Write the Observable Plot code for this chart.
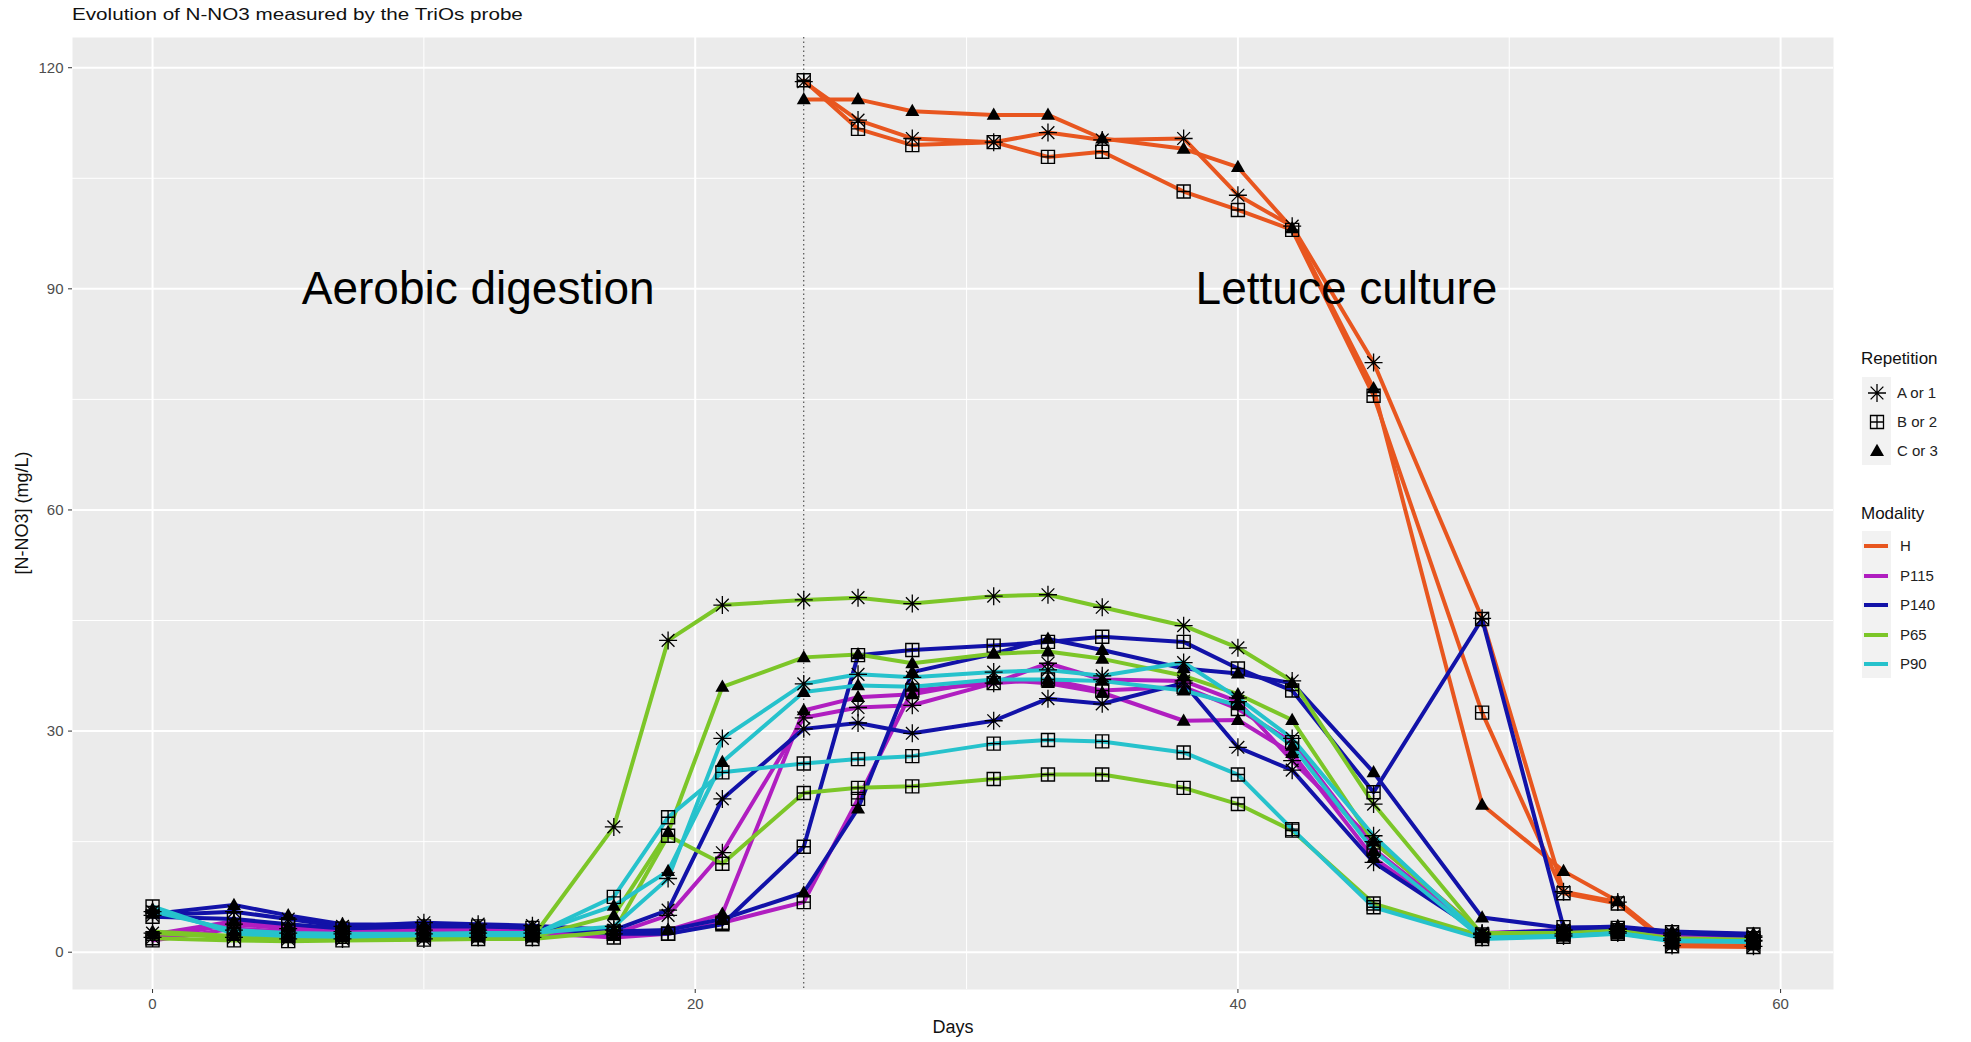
<!DOCTYPE html>
<html>
<head>
<meta charset="utf-8">
<script src="https://cdn.jsdelivr.net/npm/d3@7"></script>
<script src="https://cdn.jsdelivr.net/npm/@observablehq/plot@0.6"></script>
<style>
  html, body { margin: 0; padding: 0; background: #fff; }
  body { font-family: "Liberation Sans", Arial, sans-serif; }
  #wrap { position: relative; width: 1971px; height: 1042px; overflow: hidden; }
  #title { position: absolute; left: 72px; top: 6px; font-size: 16px; color: #111; white-space: nowrap; transform: scaleX(1.29); transform-origin: left center; }
  #chart { position: absolute; left: 0; top: 37px; }
  .axtitle { position: absolute; font-size: 18px; color: #111; white-space: nowrap; }
  #xlab { left: 953px; top: 1017px; transform: translateX(-50%); }
  #ylab { left: 22px; top: 513px; transform: translate(-50%, -50%) rotate(-90deg); }
  .lg { position: absolute; font-size: 15px; color: #222; white-space: nowrap; }
  .lgt { position: absolute; font-size: 17px; color: #111; white-space: nowrap; }
</style>
</head>
<body>
<div id="wrap">
  <div id="title">Evolution of N-NO3 measured by the TriOs probe</div>
  <div id="chart"></div>
  <div id="xlab" class="axtitle">Days</div>
  <div id="ylab" class="axtitle">[N-NO3] (mg/L)</div>
  <div id="legend"></div>
</div>
<script>
// ---------- data ----------
const days = [0,3,5,7,10,12,14,17,19,21,24,26,28,31,33,35,38,40,42,45,49,52,54,56,59];
const daysH = [24,26,28,31,33,35,38,40,42,45,49,52,54,56,59];

const H_A = [118.1,112.9,110.4,109.9,111.2,110.2,110.4,102.7,98.5,80.0,45.3,8.2,6.8,0.9,0.8];
const H_B = [118.3,111.7,109.5,109.9,107.9,108.6,103.2,100.7,98.0,75.5,32.5,8.0,6.6,0.8,0.7];
const H_C = [115.7,115.7,114.1,113.6,113.6,110.4,109.0,106.5,98.2,76.5,20.0,11.0,6.9,1.0,0.9];

const P65_A = [2.6,2.0,1.8,1.8,1.8,2.0,2.0,17.0,42.3,47.1,47.8,48.1,47.3,48.3,48.5,46.8,44.3,41.3,36.8,20.1,2.4,2.5,2.8,1.8,1.6];
const P65_B = [1.9,1.6,1.5,1.6,1.7,1.8,1.8,2.8,15.8,12.0,21.6,22.3,22.5,23.5,24.1,24.1,22.3,20.1,16.5,6.6,2.2,2.4,2.7,1.7,1.5];
const P65_C = [2.8,2.2,2.0,2.0,2.0,2.1,2.1,5.0,16.3,36.0,40.0,40.4,39.2,40.5,40.8,39.8,37.5,35.0,31.5,15.0,2.6,2.6,2.9,1.9,1.7];

const P90_A = [5.5,3.0,2.6,2.5,2.5,2.6,2.6,3.5,10.0,29.0,36.4,37.7,37.3,38.0,38.3,37.5,39.3,34.5,29.0,15.8,2.0,2.2,2.6,1.6,1.5];
const P90_B = [6.2,2.5,2.2,2.1,2.3,2.3,2.3,7.5,18.3,24.4,25.6,26.2,26.6,28.3,28.8,28.6,27.1,24.1,16.7,6.1,1.8,2.1,2.5,1.5,1.4];
const P90_C = [5.8,2.8,2.4,2.4,2.4,2.5,2.5,6.3,11.0,25.8,35.3,36.2,36.0,37.0,37.0,36.8,35.5,33.5,28.0,13.8,1.9,2.2,2.6,1.6,1.5];

const P115_A = [2.0,3.8,3.2,2.8,3.0,3.0,3.0,2.5,5.0,13.5,31.8,33.2,33.5,36.5,39.2,37.0,36.8,34.0,26.0,15.0,2.6,3.0,3.1,2.3,2.0];
const P115_B = [1.6,3.2,2.8,2.5,2.6,2.7,2.6,2.0,2.5,4.0,6.8,20.8,35.5,36.5,37.0,35.5,36.0,33.0,28.5,14.0,2.4,2.8,3.0,2.2,1.9];
const P115_C = [2.4,4.2,3.5,3.0,3.1,3.1,3.0,2.2,3.0,5.2,32.8,34.6,35.0,37.0,36.5,35.2,31.4,31.5,27.0,12.8,2.5,2.9,3.0,2.3,2.0];

const P140_A = [5.0,5.5,4.5,3.5,4.0,3.8,3.6,3.0,5.7,20.8,30.3,31.1,29.7,31.4,34.4,33.7,36.5,27.8,24.7,12.2,2.5,3.0,3.2,2.6,2.2];
const P140_B = [4.8,4.5,3.8,3.2,3.5,3.5,3.3,2.5,2.5,3.8,14.3,40.3,41.0,41.6,42.1,42.8,42.1,38.5,35.5,21.7,45.2,3.4,3.3,2.7,2.4];
const P140_C = [5.2,6.4,5.0,3.8,3.7,3.6,3.5,2.8,3.0,4.5,8.1,19.5,38.0,40.5,42.5,41.0,38.5,37.8,36.5,24.4,4.7,3.3,3.5,2.8,2.5];

const modalities = ["H","P115","P140","P65","P90"];
const modalityColors = ["#E8561F","#B01EC0","#1212A8","#7CC628","#26C2CC"];
const repetitions = ["A or 1","B or 2","C or 3"];
const xTicks = [0,20,40,60];
const xMinor = [10,30,50];
const yTicks = [0,30,60,90,120];
const yMinor = [15,45,75,105];
const phaseDay = [24];
const annotations = [
  {label: "Aerobic digestion", day: 12, value: 90},
  {label: "Lettuce culture", day: 44, value: 90}
];

// ---------- build table ----------
const series = [
  ["H", 0, daysH, H_A], ["H", 1, daysH, H_B], ["H", 2, daysH, H_C],
  ["P115", 0, days, P115_A], ["P115", 1, days, P115_B], ["P115", 2, days, P115_C],
  ["P140", 0, days, P140_A], ["P140", 1, days, P140_B], ["P140", 2, days, P140_C],
  ["P65", 0, days, P65_A], ["P65", 1, days, P65_B], ["P65", 2, days, P65_C],
  ["P90", 0, days, P90_A], ["P90", 1, days, P90_B], ["P90", 2, days, P90_C]
];
const rows = [];
for (const [mod, rep, ds, vals] of series) {
  ds.forEach((d, i) => rows.push({modality: mod, rep: repetitions[rep], key: mod + rep, day: d, value: vals[i]}));
}

// ---------- symbols ----------
const asterisk8 = {draw(ctx, size) {
  const r = Math.sqrt(size / Math.PI), d = r * 0.7071;
  ctx.moveTo(0, -r); ctx.lineTo(0, r);
  ctx.moveTo(-r, 0); ctx.lineTo(r, 0);
  ctx.moveTo(-d, -d); ctx.lineTo(d, d);
  ctx.moveTo(-d, d); ctx.lineTo(d, -d);
}};
const squarePlus = {draw(ctx, size) {
  const r = Math.sqrt(size / Math.PI);
  ctx.moveTo(-r, -r); ctx.lineTo(r, -r); ctx.lineTo(r, r); ctx.lineTo(-r, r); ctx.closePath();
  ctx.moveTo(0, -r); ctx.lineTo(0, r);
  ctx.moveTo(-r, 0); ctx.lineTo(r, 0);
}};
const triangleFill = {draw(ctx, size) {
  const r = Math.sqrt(size / Math.PI);
  ctx.moveTo(0, -r * 1.05); ctx.lineTo(r * 1.0, r * 0.7); ctx.lineTo(-r * 1.0, r * 0.7); ctx.closePath();
}};

const chart = Plot.plot({
  width: 1840,
  height: 1005,
  marginLeft: 72,
  marginRight: 7,
  marginTop: 0,
  marginBottom: 53,
  style: {fontFamily: "'Liberation Sans', Arial, sans-serif", background: "transparent", overflow: "visible"},
  x: {domain: [-2.95, 61.95]},
  y: {domain: [-5.06, 124.1]},
  color: {domain: modalities, range: modalityColors},
  marks: [
    Plot.frame({fill: "#EBEBEB", stroke: null}),
    Plot.ruleY(yMinor, {stroke: "white", strokeWidth: 1}),
    Plot.ruleX(xMinor, {stroke: "white", strokeWidth: 1}),
    Plot.ruleY(yTicks, {stroke: "white", strokeWidth: 2}),
    Plot.ruleX(xTicks, {stroke: "white", strokeWidth: 2}),
    Plot.ruleX(phaseDay, {stroke: "#333", strokeWidth: 1, strokeDasharray: "1.5,3"}),
    Plot.axisX({ticks: xTicks, tickSize: 4, tickPadding: 5, fontSize: 15, fill: "#4D4D4D", stroke: "#333", label: null}),
    Plot.axisY({ticks: yTicks, tickSize: 4, tickPadding: 5, fontSize: 15, fill: "#4D4D4D", stroke: "#333", label: null}),
    Plot.line(rows, {x: "day", y: "value", z: "key", stroke: "modality", strokeWidth: 4, strokeLinejoin: "round"}),
    Plot.dot(rows.filter(d => d.rep === repetitions[0]), {x: "day", y: "value", symbol: asterisk8, r: 9, stroke: "black", strokeWidth: 1.3, fill: "none"}),
    Plot.dot(rows.filter(d => d.rep === repetitions[1]), {x: "day", y: "value", symbol: squarePlus, r: 6.5, stroke: "black", strokeWidth: 1.4, fill: "none"}),
    Plot.dot(rows.filter(d => d.rep === repetitions[2]), {x: "day", y: "value", symbol: triangleFill, r: 7, fill: "black", stroke: "none"}),
    Plot.text(annotations, {x: "day", y: "value", text: "label", fontSize: 46, fill: "black", textAnchor: "middle"})
  ]
});
document.getElementById("chart").appendChild(chart);

// ---------- legend (HTML + small SVG keys) ----------
const legend = document.getElementById("legend");
function add(html) { legend.insertAdjacentHTML("beforeend", html); }
add(`<div class="lgt" style="left:1861px;top:349px;">Repetition</div>`);
const keySyms = [asterisk8, squarePlus, triangleFill];
const keyR = [9, 6.5, 7];
const repY = [393, 422, 451];
add(`<div style="position:absolute;left:1862px;top:377px;width:29px;height:88px;background:#F2F2F2"></div>`);
repetitions.forEach((lab, i) => {
  const p = d3.path();
  keySyms[i].draw(p, keyR[i] * keyR[i] * Math.PI);
  const isTri = i === 2;
  add(`<svg style="position:absolute;left:${1877-12}px;top:${repY[i]-12}px" width="24" height="24"><path transform="translate(12,12)" d="${p.toString()}" fill="${isTri ? "black" : "none"}" stroke="${isTri ? "none" : "black"}" stroke-width="1.3"/></svg>`);
  add(`<div class="lg" style="left:1897px;top:${repY[i]-9}px;">${lab}</div>`);
});
add(`<div class="lgt" style="left:1861px;top:504px;">Modality</div>`);
add(`<div style="position:absolute;left:1862px;top:531px;width:29px;height:147px;background:#F2F2F2"></div>`);
const modY = [546, 576, 605, 635, 664];
modalities.forEach((m, i) => {
  add(`<div style="position:absolute;left:1864px;top:${modY[i]-2}px;width:24px;height:4px;background:${modalityColors[i]}"></div>`);
  add(`<div class="lg" style="left:1900px;top:${modY[i]-9}px;">${m}</div>`);
});
</script>
</body>
</html>
